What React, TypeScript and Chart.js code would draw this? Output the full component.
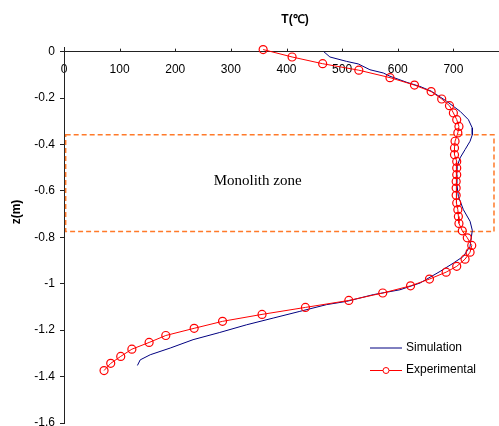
import React, { useEffect, useRef } from "react";
import { Chart, registerables } from "chart.js";

Chart.register(...registerables);

// Simulation curve: temperature (°C) vs depth z (m)
const simT = [467, 478, 508, 529, 550, 574, 586, 616, 640, 660, 688, 712, 727, 734, 734, 730, 721, 712, 707, 706, 706, 709, 718, 730, 734, 730, 718, 700, 676, 640, 604, 556, 508, 472, 424, 376, 328, 280, 232, 191, 155, 137, 132];
const simZ = [0, -0.023, -0.042, -0.053, -0.078, -0.092, -0.106, -0.132, -0.15, -0.17, -0.214, -0.257, -0.293, -0.329, -0.358, -0.386, -0.422, -0.458, -0.494, -0.53, -0.566, -0.624, -0.681, -0.731, -0.77, -0.839, -0.882, -0.911, -0.947, -0.997, -1.026, -1.047, -1.076, -1.09, -1.119, -1.148, -1.177, -1.21, -1.241, -1.277, -1.306, -1.328, -1.352];

// Experimental measurements
const expT = [358, 410, 465, 530, 586, 630, 660, 679, 693, 700, 706, 710, 708, 703, 702, 702, 706, 706, 706, 705, 705, 705, 706, 708, 709, 710, 716, 725, 733, 730, 721, 706, 687, 657, 623, 573, 512, 434, 356, 285, 234, 183, 153, 122, 102, 84, 72];
const expZ = [0.009, -0.023, -0.052, -0.08, -0.112, -0.144, -0.172, -0.204, -0.233, -0.264, -0.293, -0.322, -0.35, -0.386, -0.415, -0.444, -0.473, -0.501, -0.53, -0.559, -0.588, -0.619, -0.652, -0.681, -0.71, -0.74, -0.772, -0.802, -0.835, -0.864, -0.894, -0.925, -0.95, -0.98, -1.009, -1.04, -1.072, -1.102, -1.132, -1.162, -1.192, -1.223, -1.253, -1.282, -1.313, -1.343, -1.374];

// Monolith zone extent (T range, z range)
const zoneT = [3, 773];
const zoneZ = [-0.358, -0.775];
const zoneLabel = "Monolith zone";

const seriesNames = ["Simulation", "Experimental"];
const xTitle = "T(℃)";
const yTitle = "z(m)";

const SANS = "'Liberation Sans', Arial, sans-serif";

const overlay = {
  id: "overlay",
  beforeDatasetsDraw(chart: any) {
    const { ctx, scales } = chart;
    const x = scales.x, y = scales.y;
    ctx.save();
    ctx.strokeStyle = "#ff7a2a";
    ctx.lineWidth = 1.5;
    ctx.setLineDash([5, 3]);
    const x1 = x.getPixelForValue(zoneT[0]);
    const x2 = x.getPixelForValue(zoneT[1]);
    const y1 = y.getPixelForValue(zoneZ[0]);
    const y2 = y.getPixelForValue(zoneZ[1]);
    ctx.strokeRect(x1, y1, x2 - x1, y2 - y1);
    ctx.setLineDash([]);
    ctx.fillStyle = "#000";
    ctx.font = "15px 'Liberation Serif', 'Times New Roman', serif";
    ctx.textAlign = "center";
    ctx.textBaseline = "alphabetic";
    ctx.fillText(zoneLabel, x.getPixelForValue(348), y.getPixelForValue(-0.576));
    ctx.restore();
  },
  afterDraw(chart: any) {
    const { ctx, scales } = chart;
    const x = scales.x, y = scales.y;
    ctx.save();
    // upward tick marks on the x axis
    const y0 = y.getPixelForValue(0);
    ctx.strokeStyle = "#222";
    ctx.lineWidth = 1;
    x.ticks.forEach((t: any) => {
      const px = Math.round(x.getPixelForValue(t.value)) + 0.5;
      ctx.beginPath();
      ctx.moveTo(px, y0);
      ctx.lineTo(px, y0 - 3);
      ctx.stroke();
    });
    // titles
    ctx.fillStyle = "#000";
    ctx.font = `bold 12px ${SANS}`;
    ctx.textAlign = "center";
    ctx.textBaseline = "middle";
    ctx.fillText(xTitle, 295, 20);
    ctx.translate(17, 212);
    ctx.rotate(-Math.PI / 2);
    ctx.fillText(yTitle, 0, 0);
    ctx.restore();

    // legend
    ctx.save();
    ctx.font = `12px ${SANS}`;
    ctx.textAlign = "left";
    ctx.textBaseline = "middle";
    ctx.lineWidth = 1;
    ctx.strokeStyle = "#000080";
    ctx.beginPath();
    ctx.moveTo(370, 348);
    ctx.lineTo(402, 348);
    ctx.stroke();
    ctx.fillStyle = "#000";
    ctx.fillText(seriesNames[0], 406, 348);
    ctx.strokeStyle = "#ff0000";
    ctx.beginPath();
    ctx.moveTo(370, 370.5);
    ctx.lineTo(402, 370.5);
    ctx.stroke();
    ctx.beginPath();
    ctx.fillStyle = "#fff";
    ctx.arc(386, 370.5, 3, 0, Math.PI * 2);
    ctx.fill();
    ctx.stroke();
    ctx.fillStyle = "#000";
    ctx.fillText(seriesNames[1], 406, 370);
    ctx.restore();
  },
};

export default function App() {
  const ref = useRef<HTMLCanvasElement>(null);
  useEffect(() => {
    if (!ref.current) return;
    const simData = simT.map((t, i) => ({ x: t, y: simZ[i] }));
    const expData = expT.map((t, i) => ({ x: t, y: expZ[i] }));
    const chart = new Chart(ref.current, {
      type: "scatter",
      data: {
        datasets: [
          {
            label: seriesNames[1],
            data: expData,
            showLine: true,
            borderColor: "#ff0000",
            backgroundColor: "rgba(0,0,0,0)",
            borderWidth: 1,
            pointRadius: 4,
            pointBorderWidth: 1.2,
            pointBorderColor: "#ff0000",
            pointBackgroundColor: "rgba(0,0,0,0)",
            clip: false,
          } as any,
          {
            label: seriesNames[0],
            data: simData,
            showLine: true,
            borderColor: "#000080",
            borderWidth: 1,
            pointRadius: 0,
            clip: false,
          } as any,
        ],
      },
      options: {
        animation: false,
        responsive: false,
        events: [],
        layout: { autoPadding: false, padding: { top: 47, bottom: 3, left: 0, right: 0 } } as any,
        plugins: {
          legend: { display: false },
          tooltip: { enabled: false },
          title: { display: false },
        },
        scales: {
          x: {
            type: "linear",
            position: { y: 0 } as any,
            min: 0,
            max: 782,
            grid: { display: true, drawOnChartArea: false, drawTicks: false },
            border: { display: true, color: "#222", width: 1 },
            ticks: {
              stepSize: 100,
              includeBounds: false,
              padding: 11,
              color: "#000",
              font: { family: SANS, size: 12 },
              maxRotation: 0,
            },
            afterFit(scale: any) {
              scale.paddingLeft = 0;
              scale.paddingRight = 0;
            },
          } as any,
          y: {
            type: "linear",
            position: "left",
            min: -1.6,
            max: 0.02,
            grid: { display: true, drawOnChartArea: false, drawTicks: true, tickLength: 4, color: "#222" },
            border: { display: true, color: "#222", width: 1 },
            ticks: {
              stepSize: 0.2,
              includeBounds: false,
              padding: 5,
              color: "#000",
              font: { family: SANS, size: 12 },
              callback: (v: any) => {
                const n = Math.round(Number(v) * 10) / 10;
                return n === 0 ? "0" : String(n);
              },
            },
            afterFit(scale: any) {
              scale.width = 64;
              scale.paddingTop = 0;
              scale.paddingBottom = 0;
            },
          } as any,
        },
      },
      plugins: [overlay],
    });
    return () => chart.destroy();
  }, []);
  return (
    <div style={{ position: "fixed", left: 0, top: 0, width: 499, height: 426, background: "#fff" }}>
      <canvas ref={ref} width={499} height={426} style={{ display: "block" }} />
    </div>
  );
}
